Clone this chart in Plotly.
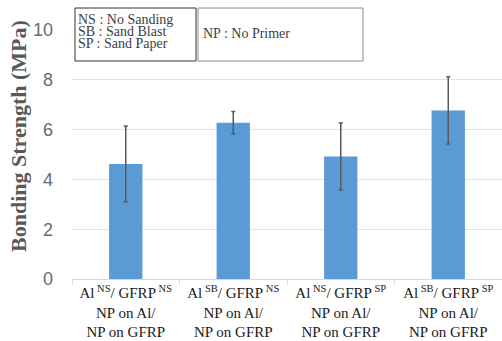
import plotly.graph_objects as go

categories = [
    "Al<sup> NS</sup>/ GFRP<sup> NS</sup><br>NP on Al/<br>NP on GFRP",
    "Al<sup> SB</sup>/ GFRP<sup> NS</sup><br>NP on Al/<br>NP on GFRP",
    "Al<sup> NS</sup>/ GFRP<sup> SP</sup><br>NP on Al/<br>NP on GFRP",
    "Al<sup> SB</sup>/ GFRP<sup> SP</sup><br>NP on Al/<br>NP on GFRP",
]
strength = [4.62, 6.28, 4.92, 6.77]
error = [1.52, 0.45, 1.35, 1.35]
y_ticks = [0, 2, 4, 6, 8, 10]
legend_left = ["NS : No Sanding", "SB : Sand Blast", "SP : Sand Paper"]
legend_right = "NP : No Primer"

W, H = 502, 341
L, R, T, B = 72, 0, 30, 62
PW, PH = W - L - R, H - T - B

def px(x):
    return (x - L) / PW

def py(y):
    return (H - B - y) / PH

fig = go.Figure()
fig.add_trace(go.Bar(
    x=categories, y=strength, width=0.31,
    marker=dict(color="#5B9BD5", line=dict(width=0)),
    error_y=dict(type="data", array=error, visible=True,
                 color="#595959", thickness=1.5, width=2),
))

shapes = [
    dict(type="rect", xref="paper", yref="paper", x0=px(75), x1=px(196),
         y0=py(61), y1=py(8), line=dict(color="#333333", width=1),
         fillcolor="white", layer="above"),
    dict(type="rect", xref="paper", yref="paper", x0=px(198), x1=px(363),
         y0=py(61), y1=py(8), line=dict(color="#8c8c8c", width=1),
         fillcolor="white", layer="above"),
]
annotations = []
for i, t in enumerate(legend_left):
    annotations.append(dict(
        text=t, xref="paper", yref="paper", x=px(76), y=py(20 + 11.5 * i),
        xanchor="left", yanchor="middle", showarrow=False,
        font=dict(family="Liberation Serif", size=14, color="#404040")))
annotations.append(dict(
    text=legend_right, xref="paper", yref="paper", x=px(201), y=py(34),
    xanchor="left", yanchor="middle", showarrow=False,
    font=dict(family="Liberation Serif", size=14, color="#404040")))
annotations.append(dict(
    text="<b>Bonding Strength (MPa)</b>", xref="paper", yref="paper",
    x=px(18), y=py(136), xanchor="center", yanchor="middle",
    textangle=-90, showarrow=False,
    font=dict(family="Liberation Serif", size=22, color="#595959")))

fig.update_layout(
    width=W, height=H,
    margin=dict(l=L, r=R, t=T, b=B, pad=0, autoexpand=False),
    paper_bgcolor="white", plot_bgcolor="white",
    showlegend=False,
    shapes=shapes, annotations=annotations,
    xaxis=dict(
        type="category", range=[-0.5, 3.5], automargin=False,
        showline=True, linecolor="#d9d9d9", linewidth=1,
        ticks="outside", tickson="boundaries", ticklen=5, tickcolor="#d9d9d9",
        showgrid=False,
        tickfont=dict(family="Liberation Serif", size=15, color="#1a1a1a"),
    ),
    yaxis=dict(
        range=[0, 10], tickvals=y_ticks, automargin=False,
        showgrid=True, gridcolor="#e3e3e3", gridwidth=1,
        zeroline=False, showline=False, ticks="",
        ticklabelstandoff=18,
        tickfont=dict(family="Liberation Sans", size=18, color="#6b6b6b"),
    ),
)

fig.write_html(
    "out.html",
    config={"displayModeBar": False},
    post_script="document.body.style.margin='0';document.body.style.padding='0';document.body.style.overflow='hidden';",
)
